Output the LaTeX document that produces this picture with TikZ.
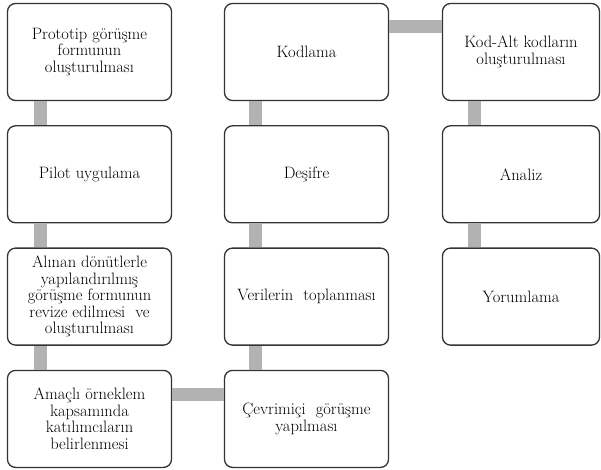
\documentclass[tikz,border=0pt]{standalone}
\usetikzlibrary{positioning}

\tikzset{
  stage/.style={draw=black!80, line width=1.3pt, rounded corners=8pt, fill=white,
    minimum width=164pt, minimum height=97pt, inner sep=2pt, align=center,
    font=\fontsize{16.5}{16.5}\selectfont},
  narrow/.style={stage, minimum width=157pt},
  link/.style={draw=gray!60, line width=13pt}
}

\begin{document}
\begin{tikzpicture}[x=1pt,y=-1pt]
  \useasboundingbox (0,0) rectangle (601,470);
  \node[stage] (proto) at (89.5,52) {Prototip görüşme\\ formunun\\ oluşturulması};
  \node[stage, below=24pt of proto] (pilot) {Pilot uygulama};
  \node[stage, below=24pt of pilot] (revize) {Alınan dönütlerle\\ yapılandırılmış\\ görüşme formunun\\ revize edilmesi~ ve\\ oluşturulması};
  \node[stage, below=24pt of revize] (amacli) {Amaçlı örneklem\\ kapsamında\\ katılımcıların\\ belirlenmesi};
  \node[stage] (kodlama) at (306.5,52) {Kodlama};
  \node[stage, below=24pt of kodlama] (desifre) {Deşifre};
  \node[stage, below=24pt of desifre] (veri) {Verilerin~ toplanması};
  \node[stage, below=24pt of veri] (cevrim) {Çevrimiçi~ görüşme\\ yapılması};
  \node[narrow] (kodalt) at (521,52) {Kod-Alt kodların\\ oluşturulması};
  \node[narrow, below=24pt of kodalt] (analiz) {Analiz};
  \node[narrow, below=24pt of analiz] (yorum) {Yorumlama};

  \draw[link] ([xshift=34pt]proto.south west) -- ([xshift=34pt]pilot.north west);
  \draw[link] ([xshift=34pt]pilot.south west) -- ([xshift=34pt]revize.north west);
  \draw[link] ([xshift=34pt]revize.south west) -- ([xshift=34pt]amacli.north west);
  \draw[link] ([yshift=-25pt]amacli.north east) -- ([yshift=-25pt]cevrim.north west);
  \draw[link] ([xshift=32pt]cevrim.north west) -- ([xshift=32pt]veri.south west);
  \draw[link] ([xshift=32pt]veri.north west) -- ([xshift=32pt]desifre.south west);
  \draw[link] ([xshift=32pt]desifre.north west) -- ([xshift=32pt]kodlama.south west);
  \draw[link] ([yshift=-24pt]kodlama.north east) -- ([yshift=-24pt]kodalt.north west);
  \draw[link] ([xshift=33pt]kodalt.south west) -- ([xshift=33pt]analiz.north west);
  \draw[link] ([xshift=33pt]analiz.south west) -- ([xshift=33pt]yorum.north west);
\end{tikzpicture}
\end{document}
